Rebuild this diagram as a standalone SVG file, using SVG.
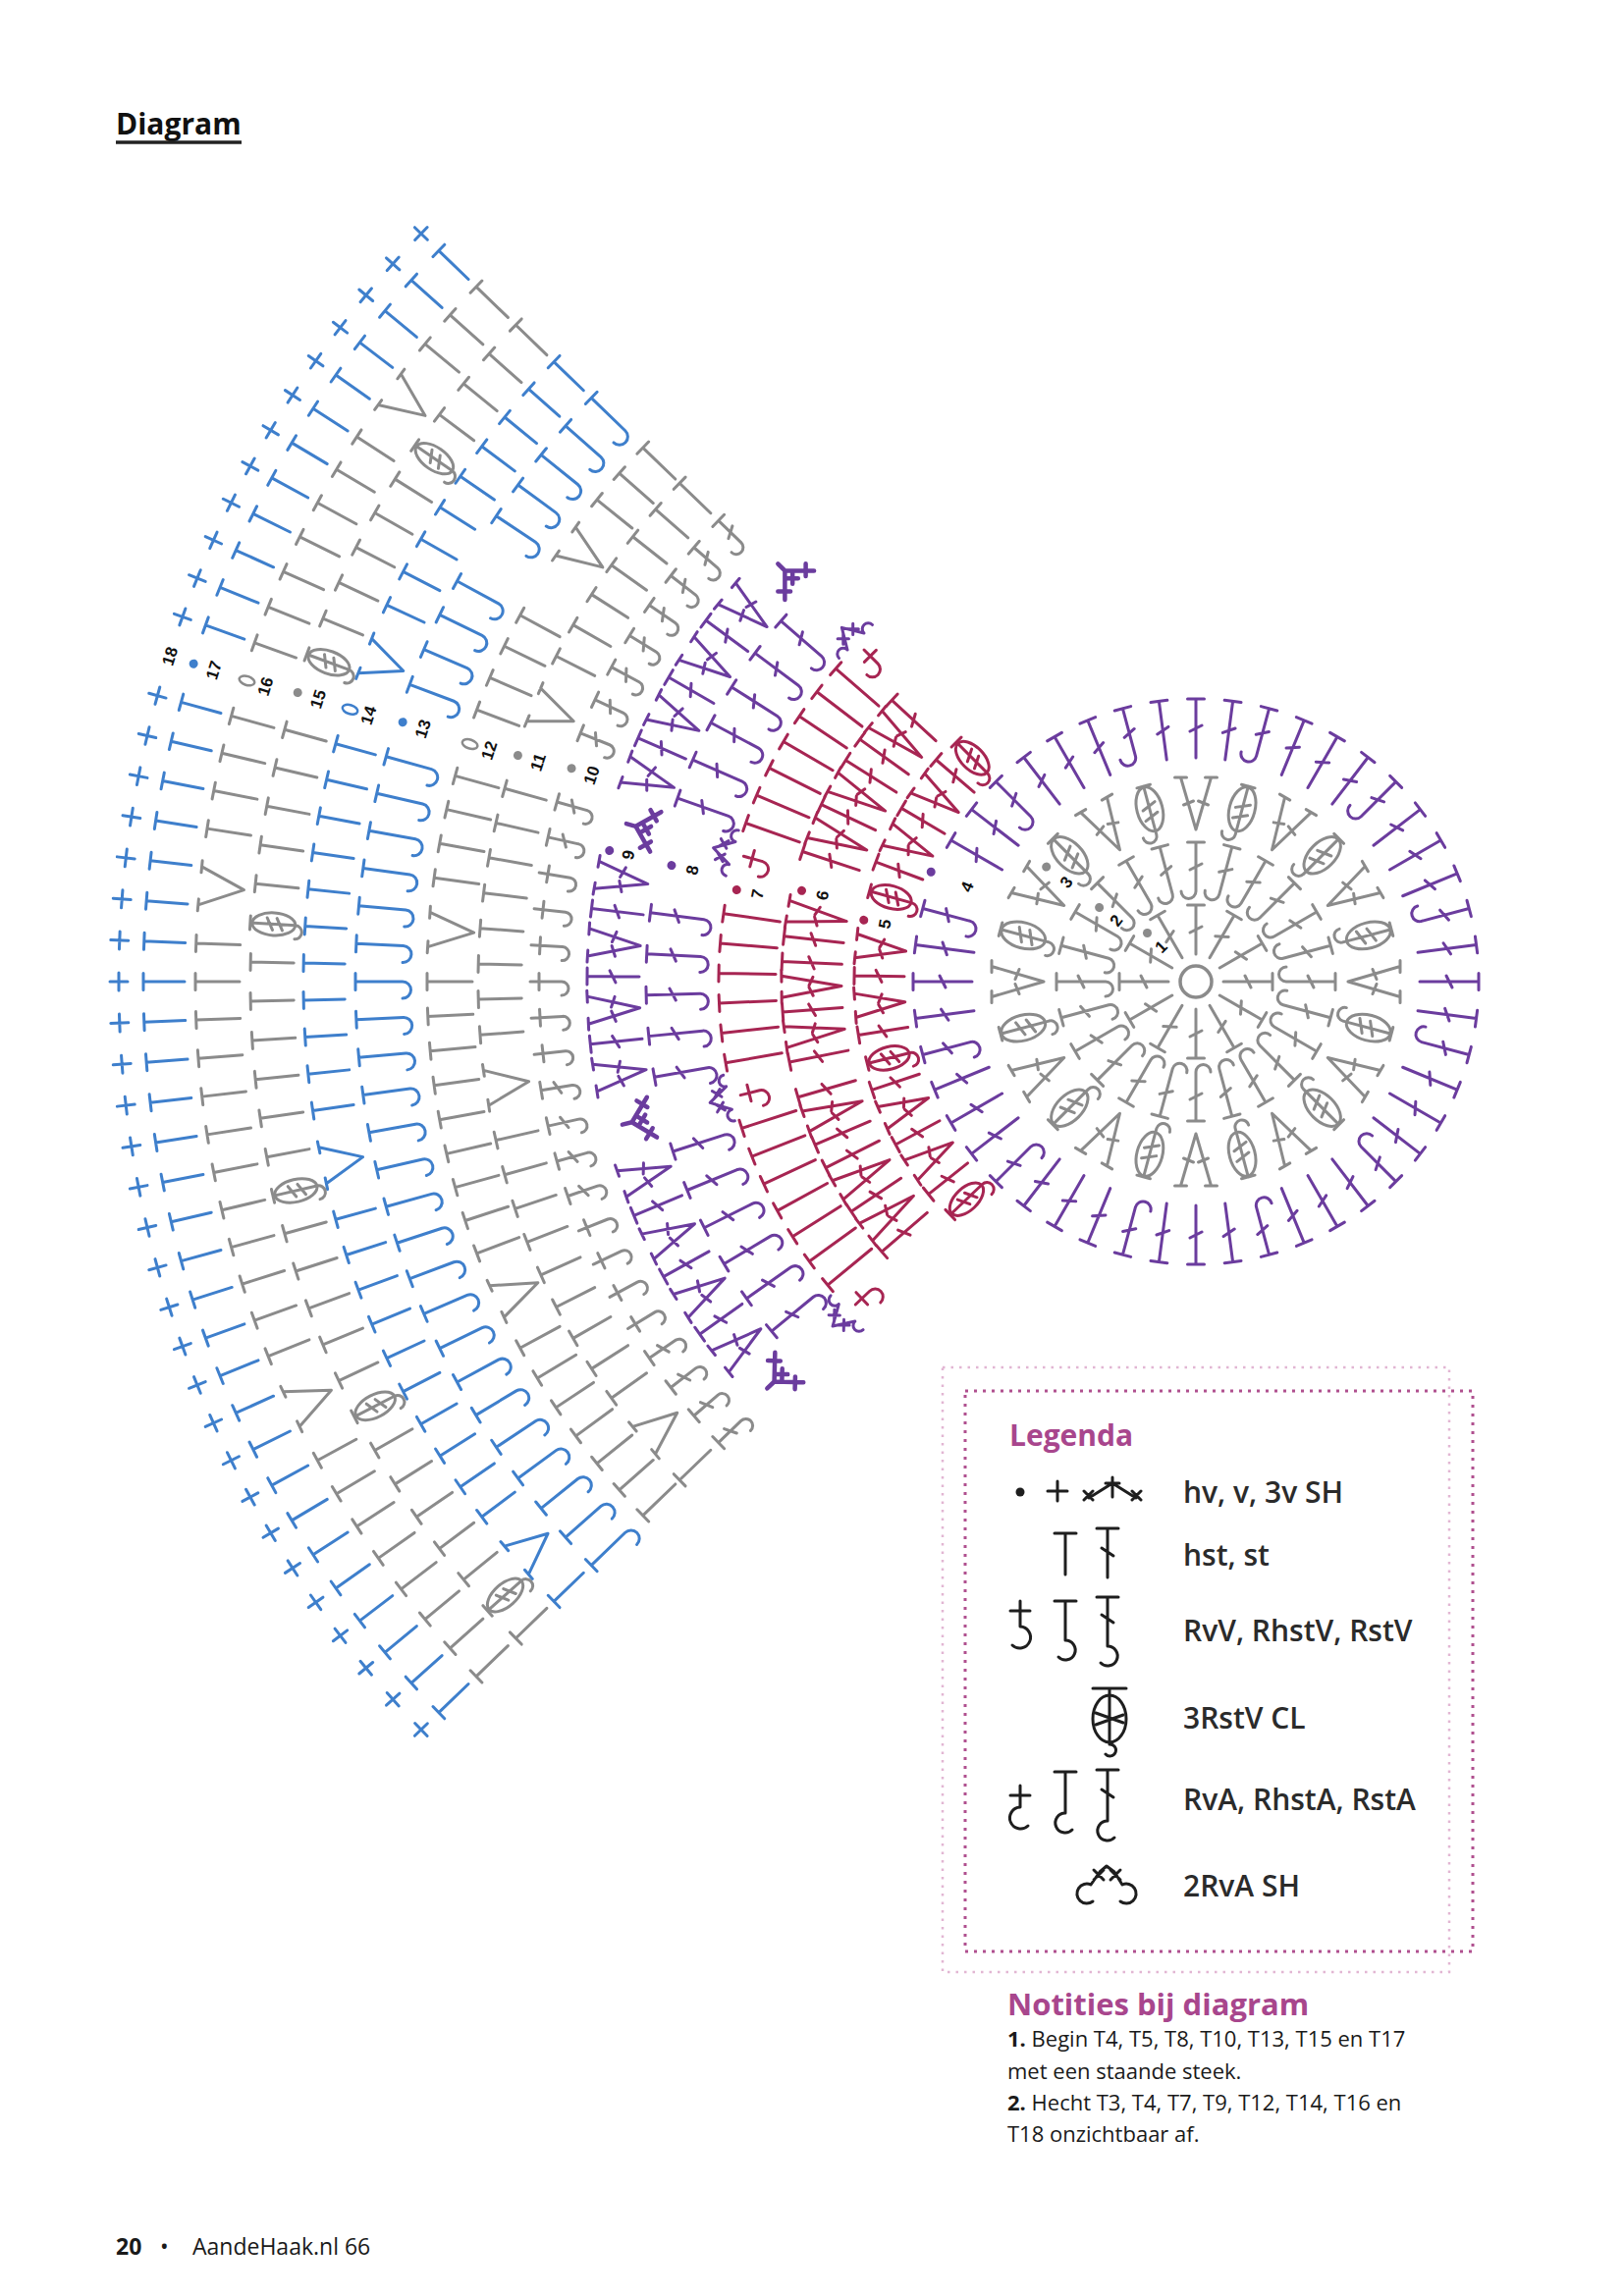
<svg xmlns="http://www.w3.org/2000/svg" width="1654" height="2339" viewBox="0 0 1654 2339">
<style>
.s{fill:none;stroke-width:3;stroke-linecap:round;stroke-linejoin:round}
.gr{stroke:#8b8b8b}
.bl{stroke:#3e7fcc}
.pu{stroke:#6b3c9e}
.rd{stroke:#a72552}
.k{stroke:#1e1e1e}
.thick{stroke-width:4.5}
.num{font-family:"Liberation Sans",Arial,sans-serif;font-weight:700;font-size:17px;fill:#111;text-anchor:middle;dominant-baseline:central}
.hd{font-family:"Open Sans",sans-serif;font-weight:700}
.lg{font-family:"Open Sans",sans-serif;font-weight:600;font-size:30px;fill:#2b2b2b}
.nt{font-family:"Open Sans",sans-serif;font-size:22px;fill:#1a1a1a}
.ft{font-family:"Open Sans",sans-serif;font-size:23px;fill:#1a1a1a}
</style>
<defs>
<path id="r18" d="M-1106 0H-1088M-1097-9V9"/>
<path id="r17" d="M-1072-8.5V8.5M-1072 0H-1030"/>
<path id="r16" d="M-1019-8.5V8.5M-1019 0H-974"/>
<path id="r15" d="M-963-8.5V8.5M-963 0H-919"/>
<path id="r14" d="M-909-8.5V8.5M-909 0H-867"/>
<path id="r13" d="M-856-8.5V8.5M-856 0H-808A8.5 8.5 0 1 1-808 17"/>
<path id="r12" d="M-783-8.5V8.5M-783 0H-737"/>
<path id="r11" d="M-731-8.5V8.5M-731 0H-687"/>
<path id="ra" d="M-678 0H-646M-669-8.5V8.5M-646 0A7 7 0 1 1-646 14"/>
<path id="rs" d="M-676-8.5V8.5M-676 0H-644M-662-6L-656 6M-644 0A7 7 0 1 1-644 14"/>
<g id="gP"><use href="#r18" class="bl"/><use href="#r17" class="bl"/><use href="#r16" class="gr"/></g>
<g id="gQ"><use href="#r18" class="bl"/><use href="#r17" class="bl"/></g>
<g id="gR"><use href="#r15" class="gr"/><use href="#r14" class="bl"/></g>
<g id="gS"><use href="#r13" class="bl"/><use href="#r12" class="gr"/></g>
<path id="v16" d="M-1019-25.6V-13.6M-1019-19.6L-974 0L-1019 19.6M-1019 13.6V25.6"/>
<path id="v14" d="M-909-24.9V-12.9M-909-18.9L-867 0L-909 18.9M-909 12.9V24.9"/>
<path id="v12" d="M-783-23.7V-11.7M-783-17.7L-737 0L-783 17.7M-783 11.7V23.7"/>
<path id="v11" d="M-731-24.1V-12.1M-731-18.1L-687 0L-731 18.1M-731 12.1V24.1"/>
<g id="cl15"><ellipse cx="-941" cy="0" rx="22" ry="11.5"/><path d="M-965-7V7M-965 0H-919M-948-6L-942 6M-938-6L-932 6M-919 0A7 7 0 1 1-919 14"/></g>
<path id="p9" d="M-620-8.5V8.5M-620 0H-567M-597-6L-591 6"/>
<path id="p9v" d="M-620-20.1V-8.1M-620-14.1L-567 0L-620 14.1M-620 8.1V20.1M-592-12.5L-596-2M-592 12.5L-596 2"/>
<path id="p8" d="M-560-8.5V8.5M-560 0H-505M-536-6L-530 6M-505 0A8 8 0 1 1-505 16"/>
<path id="r7" d="M-486-8.5V8.5M-486 0H-428"/>
<path id="r6" d="M-422-8.5V8.5M-422 0H-361M-395-6L-389 6"/>
<path id="r6v" d="M-422-17V-5M-422-11L-361 0L-422 11M-422 5V17M-390-9.5L-394-1M-390 9.5L-394 1"/>
<path id="r5" d="M-348-8.5V8.5M-348 0H-297M-326-6L-320 6"/>
<path id="r5v" d="M-348-18.2V-6.2M-348-12.2L-297 0L-348 12.2M-348 6.2V18.2M-320-9.5L-324-1M-320 9.5L-324 1"/>
<g id="rcl"><ellipse cx="-322" cy="0" rx="21" ry="11.5"/><path d="M-345-7V7M-345 0H-300M-329-6L-323 6M-319-6L-313 6M-300 0A7 7 0 1 1-300 14"/></g>
<path id="mk" d="M-602 0H-592L-571-21M-592 0L-571 21M-585-4L-577 4M-585 4L-577-4M-582-20L-573-11M-582 20L-573 11"/>
<path id="sh2" d="M-490-12L-510 0L-490 12M-505-11L-497-3M-505-3L-497-11M-505 11L-497 3M-505 3L-497 11M-490-12A6 6 0 1 1-490-24M-490 12A6 6 0 1 0-490 24"/>
<path id="rv" d="M-478 0H-458M-469-8.5V8.5M-458 0A8 8 0 1 1-458 16"/>
<path id="c1" d="M-78-8.5V8.5M-78 0H-28M-56-6L-50 6"/>
<path id="c2" d="M-142-8.5V8.5M-142 0H-92M-120-6L-114 6M-92 0A7.5 7.5 0 1 1-92 15"/>
<path id="c3v" d="M-208-21.5V-9.5M-208-15.5L-155 0L-208 15.5M-208 9.5V21.5M-180-12.5L-184-2.5M-180 12.5L-184 2.5"/>
<g id="c3c"><ellipse cx="-182" cy="0" rx="23" ry="13"/><path d="M-206-7V7M-206 0H-155M-188-7L-182 7M-177-7L-171 7M-155 0A7 7 0 1 1-155 14"/></g>
<path id="c4" d="M-288-8.5V8.5M-288 0H-228M-261-6L-255 6"/>
<path id="c4h" d="M-288-8.5V8.5M-288 0H-238M-265-6L-259 6M-238 0A8 8 0 1 1-238 16"/>
</defs>
<rect width="1654" height="2339" fill="#fff"/>

<g id="title">
<text class="hd" x="118" y="137" font-size="30" fill="#111">Diagram</text>
<path d="M118 145H246" stroke="#222" stroke-width="3.5"/>
</g>

<g id="chart" transform="translate(1218 1000)">
<g id="rows-16-18" class="s">
<use href="#gP" transform="rotate(-44)"/><use href="#gP" transform="rotate(-41.8)"/><use href="#gP" transform="rotate(-39.6)"/><use href="#gP" transform="rotate(-37.4)"/><use href="#gP" transform="rotate(-35.2)"/><use href="#gP" transform="rotate(-33)"/><use href="#gP" transform="rotate(-30.8)"/><use href="#gP" transform="rotate(-28.6)"/><use href="#gP" transform="rotate(-22)"/><use href="#gP" transform="rotate(-19.8)"/><use href="#gP" transform="rotate(-17.6)"/><use href="#gP" transform="rotate(-15.4)"/><use href="#gP" transform="rotate(-13.2)"/><use href="#gP" transform="rotate(-11)"/><use href="#gP" transform="rotate(-8.8)"/><use href="#gP" transform="rotate(-6.6)"/><use href="#gP" transform="rotate(-4.4)"/><use href="#gP" transform="rotate(-2.2)"/><use href="#gP" transform="rotate(0)"/><use href="#gP" transform="rotate(2.2)"/><use href="#gP" transform="rotate(8.8)"/><use href="#gP" transform="rotate(11)"/><use href="#gP" transform="rotate(13.2)"/><use href="#gP" transform="rotate(15.4)"/><use href="#gP" transform="rotate(19.8)"/><use href="#gP" transform="rotate(22)"/><use href="#gP" transform="rotate(24.2)"/><use href="#gP" transform="rotate(26.4)"/><use href="#gP" transform="rotate(28.6)"/><use href="#gP" transform="rotate(30.8)"/><use href="#gP" transform="rotate(33)"/><use href="#gP" transform="rotate(39.6)"/><use href="#gP" transform="rotate(41.8)"/><use href="#gP" transform="rotate(44)"/>
<use href="#gQ" transform="rotate(-26.4)"/><use href="#gQ" transform="rotate(-24.2)"/><use href="#gQ" transform="rotate(4.4)"/><use href="#gQ" transform="rotate(6.6)"/><use href="#gQ" transform="rotate(35.2)"/><use href="#gQ" transform="rotate(37.4)"/>
<g class="gr"><use href="#v16" transform="rotate(-25.3)"/><use href="#v16" transform="rotate(5.5)"/><use href="#v16" transform="rotate(36.3)"/></g>
</g>
<g id="rows-14-15" class="s">
<use href="#gR" transform="rotate(-44)"/><use href="#gR" transform="rotate(-36.86)"/><use href="#gR" transform="rotate(-34.49)"/><use href="#gR" transform="rotate(-32.11)"/><use href="#gR" transform="rotate(-29.73)"/><use href="#gR" transform="rotate(-24.97)"/><use href="#gR" transform="rotate(-22.59)"/><use href="#gR" transform="rotate(-20.22)"/><use href="#gR" transform="rotate(-17.84)"/><use href="#gR" transform="rotate(-15.46)"/><use href="#gR" transform="rotate(-8.32)"/><use href="#gR" transform="rotate(-5.95)"/><use href="#gR" transform="rotate(-3.57)"/><use href="#gR" transform="rotate(-1.19)"/><use href="#gR" transform="rotate(1.19)"/><use href="#gR" transform="rotate(5.95)"/><use href="#gR" transform="rotate(8.32)"/><use href="#gR" transform="rotate(10.7)"/><use href="#gR" transform="rotate(13.08)"/><use href="#gR" transform="rotate(15.46)"/><use href="#gR" transform="rotate(24.97)"/><use href="#gR" transform="rotate(27.35)"/><use href="#gR" transform="rotate(29.73)"/><use href="#gR" transform="rotate(32.11)"/><use href="#gR" transform="rotate(36.86)"/><use href="#gR" transform="rotate(39.24)"/><use href="#gR" transform="rotate(41.62)"/><use href="#gR" transform="rotate(44)"/>
<g class="bl"><use href="#r14" transform="rotate(-27.35)"/><use href="#r14" transform="rotate(3.57)"/><use href="#r14" transform="rotate(34.49)"/><use href="#v14" transform="rotate(-40.43)"/><use href="#v14" transform="rotate(-11.89)"/><use href="#v14" transform="rotate(21.41)"/></g>
<g class="gr"><use href="#r15" transform="rotate(-39.24)"/><use href="#r15" transform="rotate(-10.7)"/><use href="#r15" transform="rotate(22.59)"/><use href="#cl15" transform="rotate(-41.62)"/><use href="#cl15" transform="rotate(-27.35)"/><use href="#cl15" transform="rotate(-13.08)"/><use href="#cl15" transform="rotate(3.57)"/><use href="#cl15" transform="rotate(20.22)"/><use href="#cl15" transform="rotate(34.49)"/></g>
</g>
<g id="rows-12-13" class="s">
<use href="#gS" transform="rotate(-44)"/><use href="#gS" transform="rotate(-41.41)"/><use href="#gS" transform="rotate(-38.82)"/><use href="#gS" transform="rotate(-36.24)"/><use href="#gS" transform="rotate(-33.65)"/><use href="#gS" transform="rotate(-31.06)"/><use href="#gS" transform="rotate(-28.47)"/><use href="#gS" transform="rotate(-20.71)"/><use href="#gS" transform="rotate(-18.12)"/><use href="#gS" transform="rotate(-15.53)"/><use href="#gS" transform="rotate(-12.94)"/><use href="#gS" transform="rotate(-10.35)"/><use href="#gS" transform="rotate(-7.76)"/><use href="#gS" transform="rotate(-5.18)"/><use href="#gS" transform="rotate(-2.59)"/><use href="#gS" transform="rotate(0)"/><use href="#gS" transform="rotate(7.76)"/><use href="#gS" transform="rotate(10.35)"/><use href="#gS" transform="rotate(12.94)"/><use href="#gS" transform="rotate(15.53)"/><use href="#gS" transform="rotate(20.71)"/><use href="#gS" transform="rotate(23.29)"/><use href="#gS" transform="rotate(25.88)"/><use href="#gS" transform="rotate(28.47)"/><use href="#gS" transform="rotate(38.82)"/><use href="#gS" transform="rotate(41.41)"/><use href="#gS" transform="rotate(44)"/>
<g class="bl"><use href="#r13" transform="rotate(-25.88)"/><use href="#r13" transform="rotate(-23.29)"/><use href="#r13" transform="rotate(2.59)"/><use href="#r13" transform="rotate(5.18)"/><use href="#r13" transform="rotate(33.65)"/><use href="#r13" transform="rotate(36.24)"/></g>
<g class="gr"><use href="#v12" transform="rotate(-24.59)"/><use href="#v12" transform="rotate(3.88)"/><use href="#v12" transform="rotate(34.94)"/></g>
</g>
<g id="row-11" class="s gr">
<use href="#r11" transform="rotate(-44)"/><use href="#r11" transform="rotate(-35.48)"/><use href="#r11" transform="rotate(-32.65)"/><use href="#r11" transform="rotate(-29.81)"/><use href="#r11" transform="rotate(-26.97)"/><use href="#r11" transform="rotate(-24.13)"/><use href="#r11" transform="rotate(-21.29)"/><use href="#r11" transform="rotate(-18.45)"/><use href="#r11" transform="rotate(-15.61)"/><use href="#r11" transform="rotate(-12.77)"/><use href="#r11" transform="rotate(-4.26)"/><use href="#r11" transform="rotate(-1.42)"/><use href="#r11" transform="rotate(1.42)"/><use href="#r11" transform="rotate(4.26)"/><use href="#r11" transform="rotate(7.1)"/><use href="#r11" transform="rotate(9.94)"/><use href="#r11" transform="rotate(12.77)"/><use href="#r11" transform="rotate(15.61)"/><use href="#r11" transform="rotate(26.97)"/><use href="#r11" transform="rotate(29.81)"/><use href="#r11" transform="rotate(32.65)"/><use href="#r11" transform="rotate(35.48)"/><use href="#r11" transform="rotate(38.32)"/><use href="#r11" transform="rotate(41.16)"/><use href="#r11" transform="rotate(44)"/>
<use href="#v11" transform="rotate(-39.74)"/><use href="#v11" transform="rotate(-8.52)"/><use href="#v11" transform="rotate(22.71)"/>
</g>
<g id="row-10" class="s gr">
<use href="#ra" transform="rotate(-31.43)"/><use href="#ra" transform="rotate(-28.29)"/><use href="#ra" transform="rotate(-25.14)"/><use href="#ra" transform="rotate(-22)"/><use href="#ra" transform="rotate(-6.29)"/><use href="#ra" transform="rotate(-3.14)"/><use href="#ra" transform="rotate(0)"/><use href="#ra" transform="rotate(3.14)"/><use href="#ra" transform="rotate(6.29)"/><use href="#ra" transform="rotate(9.43)"/>
<use href="#rs" transform="rotate(-44)"/><use href="#rs" transform="rotate(-40.86)"/><use href="#rs" transform="rotate(-37.71)"/><use href="#rs" transform="rotate(-34.57)"/><use href="#rs" transform="rotate(-18.86)"/><use href="#rs" transform="rotate(-15.71)"/><use href="#rs" transform="rotate(-12.57)"/><use href="#rs" transform="rotate(-9.43)"/><use href="#rs" transform="rotate(12.57)"/><use href="#rs" transform="rotate(15.71)"/><use href="#rs" transform="rotate(22)"/><use href="#rs" transform="rotate(25.14)"/><use href="#rs" transform="rotate(28.29)"/><use href="#rs" transform="rotate(31.43)"/><use href="#rs" transform="rotate(34.57)"/><use href="#rs" transform="rotate(37.71)"/><use href="#rs" transform="rotate(40.86)"/><use href="#rs" transform="rotate(44)"/>
</g>
<g id="rows-8-9" class="s pu">
<use href="#p9" transform="rotate(36.4)"/><use href="#p9" transform="rotate(30)"/><use href="#p9" transform="rotate(23.6)"/><use href="#p9" transform="rotate(6.9)"/><use href="#p9" transform="rotate(0.5)"/><use href="#p9" transform="rotate(-5.9)"/><use href="#p9" transform="rotate(-22.6)"/><use href="#p9" transform="rotate(-29)"/><use href="#p9" transform="rotate(-35.4)"/>
<use href="#p9v" transform="rotate(39.6)"/><use href="#p9v" transform="rotate(33.2)"/><use href="#p9v" transform="rotate(26.8)"/><use href="#p9v" transform="rotate(20.4)"/><use href="#p9v" transform="rotate(10.1)"/><use href="#p9v" transform="rotate(3.7)"/><use href="#p9v" transform="rotate(-2.7)"/><use href="#p9v" transform="rotate(-9.1)"/><use href="#p9v" transform="rotate(-19.4)"/><use href="#p9v" transform="rotate(-25.8)"/><use href="#p9v" transform="rotate(-32.2)"/><use href="#p9v" transform="rotate(-38.6)"/>
<use href="#p8" transform="rotate(41)"/><use href="#p8" transform="rotate(36.7)"/><use href="#p8" transform="rotate(32.4)"/><use href="#p8" transform="rotate(28.1)"/><use href="#p8" transform="rotate(23.8)"/><use href="#p8" transform="rotate(19.5)"/><use href="#p8" transform="rotate(7.2)"/><use href="#p8" transform="rotate(2.9)"/><use href="#p8" transform="rotate(-1.4)"/><use href="#p8" transform="rotate(-5.7)"/><use href="#p8" transform="rotate(-10)"/><use href="#p8" transform="rotate(-18)"/><use href="#p8" transform="rotate(-22.3)"/><use href="#p8" transform="rotate(-26.6)"/><use href="#p8" transform="rotate(-30.9)"/><use href="#p8" transform="rotate(-35.2)"/><use href="#p8" transform="rotate(-39.5)"/>
<use href="#sh2" transform="rotate(45)"/><use href="#sh2" transform="rotate(15.5)"/><use href="#sh2" transform="rotate(-14)"/><use href="#sh2" transform="rotate(-43.5)"/>
<g class="thick"><use href="#mk" transform="rotate(45)"/><use href="#mk" transform="rotate(15.5)"/><use href="#mk" transform="rotate(-14)"/><use href="#mk" transform="rotate(-43.5)"/></g>
</g>
<g id="rows-5-7" class="s rd">
<use href="#r7" transform="rotate(41)"/><use href="#r7" transform="rotate(37.4)"/><use href="#r7" transform="rotate(33.8)"/><use href="#r7" transform="rotate(30.2)"/><use href="#r7" transform="rotate(26.6)"/><use href="#r7" transform="rotate(23)"/><use href="#r7" transform="rotate(19.4)"/><use href="#r7" transform="rotate(8.2)"/><use href="#r7" transform="rotate(4.6)"/><use href="#r7" transform="rotate(1)"/><use href="#r7" transform="rotate(-2.6)"/><use href="#r7" transform="rotate(-6.2)"/><use href="#r7" transform="rotate(-9.8)"/><use href="#r7" transform="rotate(-17.9)"/><use href="#r7" transform="rotate(-21.5)"/><use href="#r7" transform="rotate(-25.1)"/><use href="#r7" transform="rotate(-28.7)"/><use href="#r7" transform="rotate(-32.3)"/><use href="#r7" transform="rotate(-35.9)"/><use href="#r7" transform="rotate(-39.5)"/>
<use href="#rv" transform="rotate(45)"/><use href="#rv" transform="rotate(15.5)"/><use href="#rv" transform="rotate(-14)"/><use href="#rv" transform="rotate(-43.5)"/>
<use href="#r6" transform="rotate(42.8)"/><use href="#r6" transform="rotate(35.8)"/><use href="#r6" transform="rotate(32.3)"/><use href="#r6" transform="rotate(25.3)"/><use href="#r6" transform="rotate(18.3)"/><use href="#r6" transform="rotate(6.3)"/><use href="#r6" transform="rotate(2.8)"/><use href="#r6" transform="rotate(-4.2)"/><use href="#r6" transform="rotate(-11.2)"/><use href="#r6" transform="rotate(-16.2)"/><use href="#r6" transform="rotate(-23.2)"/><use href="#r6" transform="rotate(-26.7)"/><use href="#r6" transform="rotate(-33.7)"/><use href="#r6" transform="rotate(-40.7)"/>
<use href="#r6v" transform="rotate(39.3)"/><use href="#r6v" transform="rotate(28.8)"/><use href="#r6v" transform="rotate(21.8)"/><use href="#r6v" transform="rotate(9.8)"/><use href="#r6v" transform="rotate(-0.7)"/><use href="#r6v" transform="rotate(-7.7)"/><use href="#r6v" transform="rotate(-19.7)"/><use href="#r6v" transform="rotate(-30.2)"/><use href="#r6v" transform="rotate(-37.2)"/>
<use href="#r5" transform="rotate(40.5)"/><use href="#r5" transform="rotate(30.5)"/><use href="#r5" transform="rotate(20.5)"/><use href="#r5" transform="rotate(1)"/><use href="#r5" transform="rotate(-9)"/><use href="#r5" transform="rotate(-18.5)"/><use href="#r5" transform="rotate(-28.5)"/><use href="#r5" transform="rotate(-38.5)"/>
<use href="#r5v" transform="rotate(35.5)"/><use href="#r5v" transform="rotate(25.5)"/><use href="#r5v" transform="rotate(6)"/><use href="#r5v" transform="rotate(-4)"/><use href="#r5v" transform="rotate(-23.5)"/><use href="#r5v" transform="rotate(-33.5)"/>
<use href="#rcl" transform="rotate(45)"/><use href="#rcl" transform="rotate(15.5)"/><use href="#rcl" transform="rotate(-14)"/><use href="#rcl" transform="rotate(-43.5)"/>
</g>
<g id="row-4" class="s pu">
<use href="#c4" transform="rotate(0)"/><use href="#c4" transform="rotate(7.5)"/><use href="#c4" transform="rotate(30)"/><use href="#c4" transform="rotate(37.5)"/><use href="#c4" transform="rotate(52.5)"/><use href="#c4" transform="rotate(60)"/><use href="#c4" transform="rotate(67.5)"/><use href="#c4" transform="rotate(82.5)"/><use href="#c4" transform="rotate(90)"/><use href="#c4" transform="rotate(97.5)"/><use href="#c4" transform="rotate(112.5)"/><use href="#c4" transform="rotate(120)"/><use href="#c4" transform="rotate(127.5)"/><use href="#c4" transform="rotate(142.5)"/><use href="#c4" transform="rotate(150)"/><use href="#c4" transform="rotate(157.5)"/><use href="#c4" transform="rotate(172.5)"/><use href="#c4" transform="rotate(180)"/><use href="#c4" transform="rotate(187.5)"/><use href="#c4" transform="rotate(202.5)"/><use href="#c4" transform="rotate(210)"/><use href="#c4" transform="rotate(217.5)"/><use href="#c4" transform="rotate(232.5)"/><use href="#c4" transform="rotate(240)"/><use href="#c4" transform="rotate(247.5)"/><use href="#c4" transform="rotate(262.5)"/><use href="#c4" transform="rotate(270)"/><use href="#c4" transform="rotate(277.5)"/><use href="#c4" transform="rotate(292.5)"/><use href="#c4" transform="rotate(300)"/><use href="#c4" transform="rotate(307.5)"/><use href="#c4" transform="rotate(322.5)"/><use href="#c4" transform="rotate(330)"/><use href="#c4" transform="rotate(337.5)"/><use href="#c4" transform="rotate(352.5)"/>
<use href="#c4h" transform="rotate(15)"/><use href="#c4h" transform="rotate(45)"/><use href="#c4h" transform="rotate(75)"/><use href="#c4h" transform="rotate(105)"/><use href="#c4h" transform="rotate(135)"/><use href="#c4h" transform="rotate(165)"/><use href="#c4h" transform="rotate(195)"/><use href="#c4h" transform="rotate(225)"/><use href="#c4h" transform="rotate(255)"/><use href="#c4h" transform="rotate(285)"/><use href="#c4h" transform="rotate(315)"/><use href="#c4h" transform="rotate(345)"/>
</g>
<g id="rows-1-3" class="s gr">
<circle cx="0" cy="0" r="16" stroke-width="3.5"/>
<use href="#c1" transform="rotate(0)"/><use href="#c1" transform="rotate(30)"/><use href="#c1" transform="rotate(60)"/><use href="#c1" transform="rotate(90)"/><use href="#c1" transform="rotate(120)"/><use href="#c1" transform="rotate(150)"/><use href="#c1" transform="rotate(180)"/><use href="#c1" transform="rotate(210)"/><use href="#c1" transform="rotate(240)"/><use href="#c1" transform="rotate(270)"/><use href="#c1" transform="rotate(300)"/><use href="#c1" transform="rotate(330)"/>
<use href="#c2" transform="rotate(0)"/><use href="#c2" transform="rotate(15)"/><use href="#c2" transform="rotate(30)"/><use href="#c2" transform="rotate(45)"/><use href="#c2" transform="rotate(60)"/><use href="#c2" transform="rotate(75)"/><use href="#c2" transform="rotate(90)"/><use href="#c2" transform="rotate(105)"/><use href="#c2" transform="rotate(120)"/><use href="#c2" transform="rotate(135)"/><use href="#c2" transform="rotate(150)"/><use href="#c2" transform="rotate(165)"/><use href="#c2" transform="rotate(180)"/><use href="#c2" transform="rotate(195)"/><use href="#c2" transform="rotate(210)"/><use href="#c2" transform="rotate(225)"/><use href="#c2" transform="rotate(240)"/><use href="#c2" transform="rotate(255)"/><use href="#c2" transform="rotate(270)"/><use href="#c2" transform="rotate(285)"/><use href="#c2" transform="rotate(300)"/><use href="#c2" transform="rotate(315)"/><use href="#c2" transform="rotate(330)"/><use href="#c2" transform="rotate(345)"/>
<use href="#c3v" transform="rotate(0)"/><use href="#c3v" transform="rotate(30)"/><use href="#c3v" transform="rotate(60)"/><use href="#c3v" transform="rotate(90)"/><use href="#c3v" transform="rotate(120)"/><use href="#c3v" transform="rotate(150)"/><use href="#c3v" transform="rotate(180)"/><use href="#c3v" transform="rotate(210)"/><use href="#c3v" transform="rotate(240)"/><use href="#c3v" transform="rotate(270)"/><use href="#c3v" transform="rotate(300)"/><use href="#c3v" transform="rotate(330)"/>
<use href="#c3c" transform="rotate(15)"/><use href="#c3c" transform="rotate(45)"/><use href="#c3c" transform="rotate(75)"/><use href="#c3c" transform="rotate(105)"/><use href="#c3c" transform="rotate(135)"/><use href="#c3c" transform="rotate(165)"/><use href="#c3c" transform="rotate(195)"/><use href="#c3c" transform="rotate(225)"/><use href="#c3c" transform="rotate(255)"/><use href="#c3c" transform="rotate(285)"/><use href="#c3c" transform="rotate(315)"/><use href="#c3c" transform="rotate(345)"/>
</g>
<g id="row-starts">
<circle cx="-70" cy="0" r="4.5" fill="#8b8b8b" transform="rotate(45)"/>
<circle cx="-124" cy="0" r="4.5" fill="#8b8b8b" transform="rotate(37.5)"/>
<circle cx="-192" cy="0" r="4.5" fill="#8b8b8b" transform="rotate(37.5)"/>
<circle cx="-292" cy="0" r="4.5" fill="#6b3c9e" transform="rotate(22.5)"/>
<circle cx="-344" cy="0" r="4.5" fill="#a72552" transform="rotate(10.5)"/>
<circle cx="-412" cy="0" r="4.5" fill="#a72552" transform="rotate(13)"/>
<circle cx="-477" cy="0" r="4.5" fill="#a72552" transform="rotate(11.3)"/>
<circle cx="-547" cy="0" r="4.5" fill="#6b3c9e" transform="rotate(12.5)"/>
<circle cx="-612" cy="0" r="4.5" fill="#6b3c9e" transform="rotate(12.6)"/>
<circle cx="-672" cy="0" r="4.5" fill="#8b8b8b" transform="rotate(18.86)"/>
<circle cx="-728" cy="0" r="4.5" fill="#8b8b8b" transform="rotate(18.45)"/>
<ellipse cx="-778" cy="0" rx="8" ry="4.5" fill="none" stroke="#8b8b8b" stroke-width="2.5" transform="rotate(18.12)"/>
<circle cx="-850" cy="0" r="4.5" fill="#3e7fcc" transform="rotate(18.12)"/>
<ellipse cx="-905" cy="0" rx="8" ry="4.5" fill="none" stroke="#3e7fcc" stroke-width="2.5" transform="rotate(17.84)"/>
<circle cx="-961" cy="0" r="4.5" fill="#8b8b8b" transform="rotate(17.84)"/>
<ellipse cx="-1014" cy="0" rx="8" ry="4.5" fill="none" stroke="#8b8b8b" stroke-width="2.5" transform="rotate(17.6)"/>
<circle cx="-1071" cy="0" r="4.5" fill="#3e7fcc" transform="rotate(17.6)"/>
</g>
<g id="row-numbers">
<text class="num" transform="rotate(45) translate(-50 0) rotate(-90)">1</text>
<text class="num" transform="rotate(37.5) translate(-102 0) rotate(-90)">2</text>
<text class="num" transform="rotate(37.5) translate(-166 0) rotate(-90)">3</text>
<text class="num" transform="rotate(22.5) translate(-252 0) rotate(-90)">4</text>
<text class="num" transform="rotate(10.5) translate(-322 0) rotate(-90)">5</text>
<text class="num" transform="rotate(13) translate(-390 0) rotate(-90)">6</text>
<text class="num" transform="rotate(11.3) translate(-455 0) rotate(-90)">7</text>
<text class="num" transform="rotate(12.5) translate(-525 0) rotate(-90)">8</text>
<text class="num" transform="rotate(12.6) translate(-592 0) rotate(-90)">9</text>
<text class="num" transform="rotate(18.86) translate(-650 0) rotate(-90)">10</text>
<text class="num" transform="rotate(18.45) translate(-706 0) rotate(-90)">11</text>
<text class="num" transform="rotate(18.12) translate(-757 0) rotate(-90)">12</text>
<text class="num" transform="rotate(18.12) translate(-828 0) rotate(-90)">13</text>
<text class="num" transform="rotate(17.84) translate(-885 0) rotate(-90)">14</text>
<text class="num" transform="rotate(17.84) translate(-939 0) rotate(-90)">15</text>
<text class="num" transform="rotate(17.6) translate(-994 0) rotate(-90)">16</text>
<text class="num" transform="rotate(17.6) translate(-1049 0) rotate(-90)">17</text>
<text class="num" transform="rotate(17.6) translate(-1096 0) rotate(-90)">18</text>
</g>
</g>

<g id="legend" transform="translate(-7 -9)">
<rect x="967" y="1402" width="516" height="616" fill="none" stroke="#e2b6d3" stroke-width="2.5" stroke-dasharray="2.5 6"/>
<rect x="990" y="1426" width="517" height="571" fill="none" stroke="#b0508f" stroke-width="3" stroke-dasharray="3 6"/>
<text class="hd" x="1035" y="1482" font-size="30" fill="#a8468d">Legenda</text>
<g class="s k">
<circle cx="1046" cy="1529" r="4.5" fill="#1e1e1e" stroke="none"/>
<path d="M1074 1528H1094M1084 1518V1538"/>
<path d="M1116 1535L1140 1520L1164 1535M1140 1514V1534M1133 1520H1147M1111 1528L1120 1537M1111 1537L1120 1528M1160 1528L1169 1537M1160 1537L1169 1528"/>
<path d="M1081 1571H1103M1092 1571V1613"/>
<path d="M1124 1566H1146M1135 1566V1616M1129 1586L1141 1594"/>
<path d="M1036 1650H1056M1046 1640V1666A11 11 0 1 1 1038 1685"/>
<path d="M1081 1640H1103M1092 1640V1680A10 10 0 1 1 1085 1697"/>
<path d="M1124 1636H1146M1135 1636V1686M1129 1654L1141 1662M1135 1686A10 10 0 1 1 1128 1703"/>
<ellipse cx="1137" cy="1760" rx="17" ry="24"/>
<path d="M1120 1729H1154M1137 1729V1786M1123 1754L1151 1764M1123 1766L1151 1756M1137 1786A6 6 0 1 1 1133 1796"/>
<path d="M1036 1838H1056M1046 1828V1850A11 11 0 1 0 1054 1869"/>
<path d="M1081 1814H1103M1092 1814V1856A10 10 0 1 0 1099 1873"/>
<path d="M1124 1812H1146M1135 1812V1864M1129 1832L1141 1840M1135 1864A10 10 0 1 0 1142 1881"/>
<path d="M1118 1929L1127 1916L1134 1910L1142 1916L1150 1929M1121 1914L1131 1924M1121 1924L1131 1914M1138 1914L1148 1924M1138 1924L1148 1914M1118 1929A10 10 0 1 0 1120 1946M1150 1929A10 10 0 1 1 1148 1946"/>
</g>
<text class="lg" x="1212" y="1540">hv, v, 3v SH</text>
<text class="lg" x="1212" y="1604">hst, st</text>
<text class="lg" x="1212" y="1681">RvV, RhstV, RstV</text>
<text class="lg" x="1212" y="1770">3RstV CL</text>
<text class="lg" x="1212" y="1853">RvA, RhstA, RstA</text>
<text class="lg" x="1212" y="1941">2RvA SH</text>
</g>

<g id="notes">
<text class="hd" x="1026" y="2053" font-size="31" fill="#a8468d">Notities bij diagram</text>
<text class="nt" x="1026" y="2085"><tspan font-weight="700">1.</tspan> Begin T4, T5, T8, T10, T13, T15 en T17</text>
<text class="nt" x="1026" y="2118">met een staande steek.</text>
<text class="nt" x="1026" y="2150"><tspan font-weight="700">2.</tspan> Hecht T3, T4, T7, T9, T12, T14, T16 en</text>
<text class="nt" x="1026" y="2182">T18 onzichtbaar af.</text>
</g>

<g id="footer">
<text class="ft" x="118" y="2297" font-weight="700">20</text>
<text class="ft" x="163" y="2297">•</text>
<text class="ft" x="196" y="2297">AandeHaak.nl 66</text>
</g>
</svg>
